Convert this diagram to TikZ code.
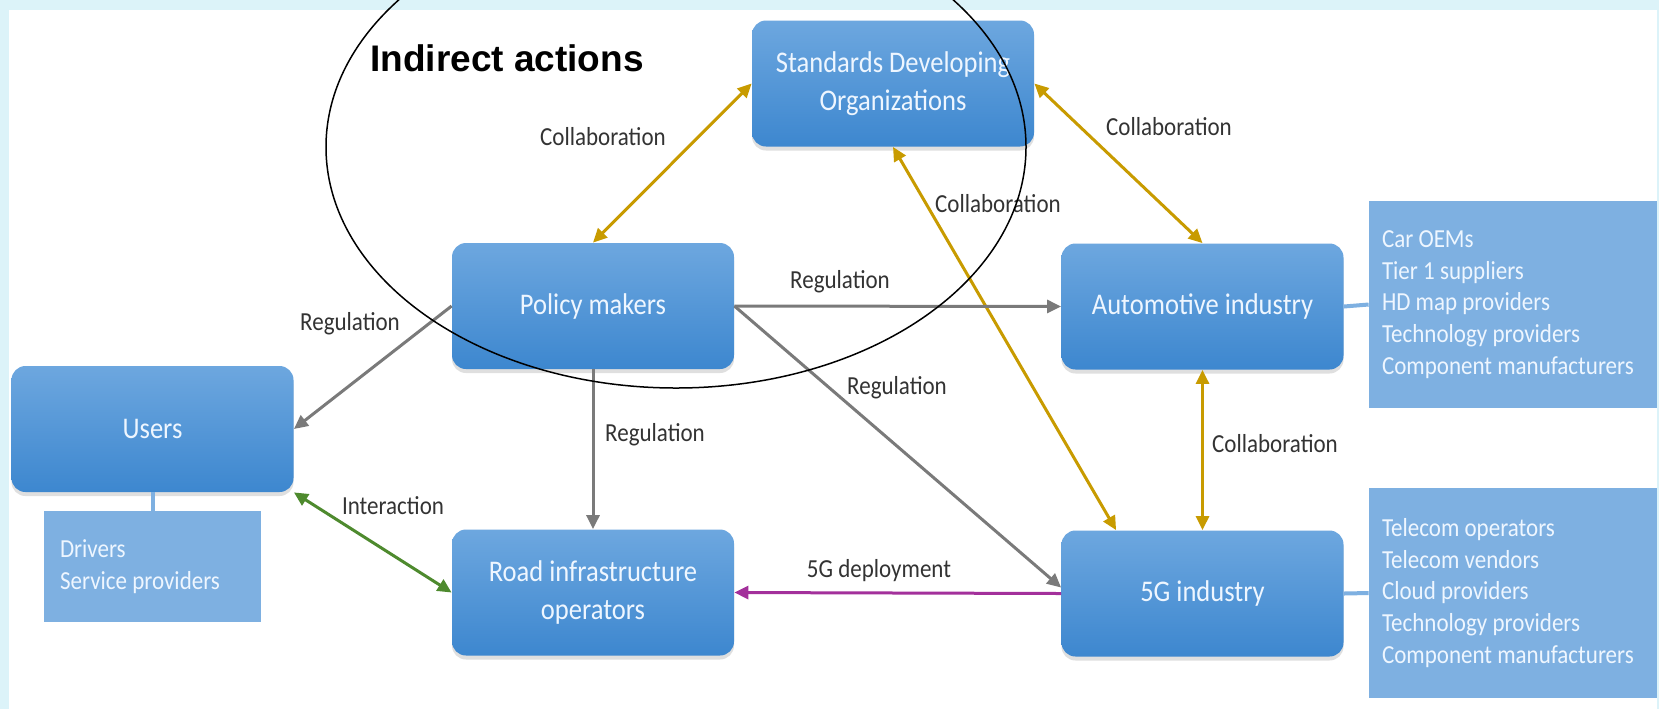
\documentclass[tikz,border=0pt]{standalone}
\usepackage{fontspec}
\newfontfamily\cfont[FakeStretch=0.885]{Carlito}
\newfontfamily\afont{Liberation Sans}
\usetikzlibrary{arrows.meta,calc,shadows}
\definecolor{framec}{HTML}{DCF3F9}
\definecolor{btop}{HTML}{6DA7DF}
\definecolor{bbot}{HTML}{3D87CF}
\definecolor{subc}{HTML}{7EB0E1}
\definecolor{goldc}{HTML}{C89B00}
\definecolor{regc}{HTML}{7A7A7A}
\definecolor{interc}{HTML}{4E8A2E}
\definecolor{deployc}{HTML}{A3309B}
\definecolor{labc}{HTML}{333333}
\definecolor{btext}{HTML}{EEF6FF}
\begin{document}
\begin{tikzpicture}[x=0.5pt,y=-0.5pt,
 box/.style={rectangle, rounded corners=7pt, top color=btop, bottom color=bbot, draw=none,
   minimum width=141pt, minimum height=63pt, text=btext,
   font=\cfont\fontsize{15}{19}\selectfont, align=center,
   drop shadow={shadow xshift=0pt, shadow yshift=-2pt, opacity=0.25}},
 subbox/.style={rectangle, fill=subc, text=btext, font=\cfont\fontsize{13}{15.85}\selectfont,
   align=flush left, inner xsep=6.5pt},
 lbl/.style={text=labc, font=\cfont\fontsize{13}{15}\selectfont, inner sep=1pt},
 arr/.style={line width=1.5pt, -{Triangle[length=7pt,width=6.5pt]}},
 biarr/.style={line width=1.5pt, {Triangle[length=7pt,width=6.5pt]}-{Triangle[length=7pt,width=6.5pt]}},
 link/.style={draw=subc, line width=2pt}]
\fill[framec] (0,0) rectangle (1659,709);
\fill[white] (9,10) rectangle (1657,709);
\useasboundingbox (0,0) rectangle (1659,709);

% main boxes
\node[box] (SDO) at (893,83.5) {Standards Developing\\Organizations};
\node[box] (PM) at (593,306) {Policy makers};
\node[box] (AI) at (1202.5,306.5) {Automotive industry};
\node[box] (US) at (152.5,429) {Users};
\node[box] (RO) at (593,592.5) {Road infrastructure\\operators};
\node[box] (GI) at (1202.5,593.5) {5G industry};

% sub boxes
\node[subbox, text width=92.5pt, inner xsep=8pt, minimum height=55.5pt] (USs) at (152.5,566.5) {Drivers\\Service providers};
\node[subbox, text width=131pt, minimum height=103.5pt] (AIs) at (1513,304.5) {Car OEMs\\Tier 1 suppliers\\HD map providers\\Technology providers\\Component manufacturers};
\node[subbox, text width=131pt, minimum height=105pt] (GIs) at (1513,593) {Telecom operators\\Telecom vendors\\Cloud providers\\Technology providers\\Component manufacturers};

\draw[link] (US.south) -- (USs.north);
\draw[link] (AI.east) -- (AIs.west);
\draw[link] (GI.east) -- (GIs.west);

% connectors
\draw[biarr, goldc] (PM.north) -- (SDO.west);
\draw[biarr, goldc] (SDO.east) -- (AI.north);
\draw[biarr, goldc] (SDO.south) -- ($(GI.north west)+(55,0)$);
\draw[biarr, goldc] (AI.south) -- (GI.north);
\draw[arr, regc] (PM.east) -- (AI.west);
\draw[arr, regc] (PM.west) -- (US.east);
\draw[arr, regc] (PM.south) -- (RO.north);
\draw[arr, regc] (PM.east) -- ($(GI.west)+(0,-6)$);
\draw[biarr, interc] (US.south east) -- (RO.west);
\draw[arr, deployc] (GI.west) -- (RO.east);

% labels
\node[lbl] (c1) at (603,137) {Collaboration};
\node[lbl] (c2) at (1169,127) {Collaboration};
\node[lbl] (c3) at (998,204) {Collaboration};
\node[lbl] (c4) at (1275,444) {Collaboration};
\node[lbl] (r1) at (350,324) {Regulation};
\node[lbl] (r2) at (840,282) {Regulation};
\node[lbl] (r3) at (897,388) {Regulation};
\node[lbl] (r4) at (655,435) {Regulation};
\node[lbl] (i1) at (393,506) {Interaction};
\node[lbl] (d1) at (879,571) {5G deployment};

% indirect actions
\node[font=\afont\bfseries\fontsize{18.5}{22}\selectfont, text=black] (IA) at (507,58) {Indirect actions};
\begin{scope}
\clip (0,0) rectangle (1659,709);
\draw[black, line width=0.75pt] (676,147) ellipse [x radius=350, y radius=241];
\end{scope}
\end{tikzpicture}
\end{document}
